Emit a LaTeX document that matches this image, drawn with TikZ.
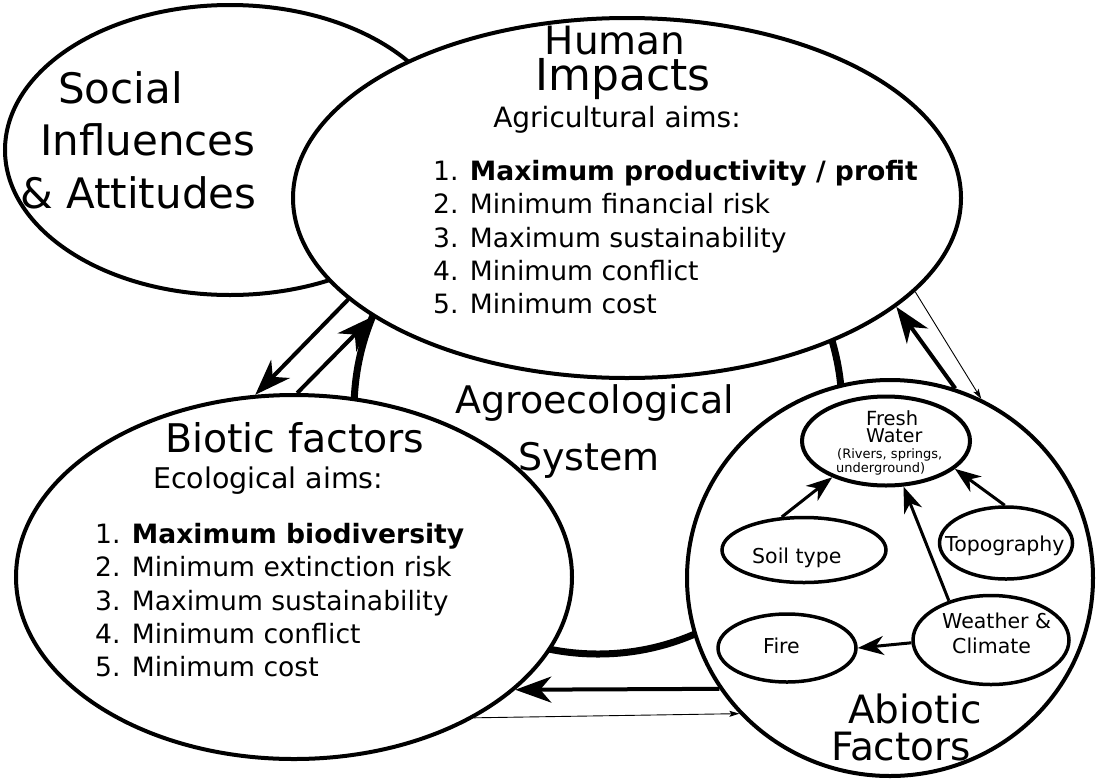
\documentclass[tikz,border=0pt]{standalone}
\usepackage{fontspec}
\setmainfont{DejaVu Sans}
\usetikzlibrary{arrows.meta,shapes.geometric}
\newcommand\fsz[1]{\fontsize{#1}{#1}\selectfont}
\begin{document}
\begin{tikzpicture}[x=1pt,y=-1pt,
  ell/.style={draw, ellipse, line width=4pt, fill=white, inner sep=0pt},
  sell/.style={draw, ellipse, line width=3.5pt, fill=white, inner sep=0pt},
  txt/.style={anchor=base west, inner sep=0pt},
  bigarrow/.style={line width=4pt, -{Stealth[length=36pt,width=26pt,inset=11pt]}},
  thinarrow/.style={line width=0.9pt, -{Stealth[length=10pt,width=6pt,inset=2pt]}},
  inarrow/.style={line width=3pt, -{Stealth[length=26pt,width=19pt,inset=8pt]}}]
\useasboundingbox (0,0) rectangle (1097,782);
% big system circle
\node[circle, draw, line width=7pt, minimum size=488pt, inner sep=0pt] (agro) at (598,410) {};
% main ellipses
\node[ell, minimum width=450pt, minimum height=290pt] (social) at (230,150) {};
\node[ell, minimum width=668pt, minimum height=360pt] (human) at (627,198) {};
\node[ell, minimum width=556pt, minimum height=364pt] (biotic) at (294,577) {};
\node[ell, minimum width=406pt, minimum height=396pt] (abiotic) at (890,578) {};
% inner ellipses
\node[ell, minimum width=168pt, minimum height=89pt] (water) at (886,441) {};
\node[sell, minimum width=164pt, minimum height=65pt] (soil) at (804,550) {};
\node[sell, minimum width=133pt, minimum height=72pt] (topo) at (1006,543) {};
\node[sell, minimum width=138pt, minimum height=68pt] (fire) at (787,648) {};
\node[sell, minimum width=156pt, minimum height=89pt] (weather) at (991,640) {};
% texts: social
\node[txt] (s1) at (58,103) {\fsz{42}Social};
\node[txt] (s2) at (40,155) {\fsz{42}Influences};
\node[txt] (s3) at (20,208) {\fsz{42}\& Attitudes};
% human
\node[anchor=base, inner sep=0pt] (h1) at (615,54) {\fsz{39}Human};
\node[anchor=base, inner sep=0pt] (h2) at (623,90) {\fsz{44}Impacts};
\node[anchor=base, inner sep=0pt] (h3) at (617,127) {\fsz{28}Agricultural aims:};
\node[txt] (h4) at (433,180) {\fsz{26.6}1. \textbf{Maximum productivity / profit}};
\node[txt] (h5) at (433,213) {\fsz{26.6}2. Minimum financial risk};
\node[txt] (h6) at (433,247) {\fsz{26.6}3. Maximum sustainability};
\node[txt] (h7) at (433,280) {\fsz{26.6}4. Minimum conflict};
\node[txt] (h8) at (433,313) {\fsz{26.6}5. Minimum cost};
% system
\node[txt] (a1) at (455,413) {\fsz{38}Agroecological};
\node[txt] (a2) at (518,470) {\fsz{38}System};
% biotic
\node[txt] (b1) at (165,452) {\fsz{39.5}Biotic factors};
\node[txt] (b2) at (153,488) {\fsz{28.5}Ecological aims:};
\node[txt] (b3) at (95,543) {\fsz{26.6}1. \textbf{Maximum biodiversity}};
\node[txt] (b4) at (95,576) {\fsz{26.6}2. Minimum extinction risk};
\node[txt] (b5) at (95,610) {\fsz{26.6}3. Maximum sustainability};
\node[txt] (b6) at (95,643) {\fsz{26.6}4. Minimum conflict};
\node[txt] (b7) at (95,676) {\fsz{26.6}5. Minimum cost};
% abiotic
\node[txt] (c1) at (848,723) {\fsz{39}Abiotic};
\node[txt] (c2) at (831,760) {\fsz{39}Factors};
\node[txt] (w1) at (866,425) {\fsz{19.5}Fresh};
\node[txt] (w2) at (866,442) {\fsz{19}Water};
\node[txt] (w3) at (837,458) {\fsz{13}(Rivers, springs,};
\node[txt] (w4) at (836,472) {\fsz{13}underground)};
\node[txt] (so) at (752,563) {\fsz{20.5}Soil type};
\node[txt] (to) at (945,551) {\fsz{20.5}Topography};
\node[txt] (fi) at (763,653) {\fsz{20.5}Fire};
\node[txt] (we1) at (942,628) {\fsz{20.5}Weather \&};
\node[txt] (we2) at (952,653) {\fsz{20.5}Climate};
% main arrows
\draw[bigarrow] (human.200.8) -- (biotic.102.9);
\draw[bigarrow] (biotic.89) -- (human.205.1);
\draw[thinarrow] (human.342) -- (abiotic.63.7);
\draw[bigarrow] (abiotic.71.1) -- (human.338.3);
\draw[bigarrow] (abiotic.213.3) -- (biotic.333.1);
\draw[thinarrow] (biotic.322.3) -- (abiotic.222);
% inner arrows
\draw[inarrow] (soil.124.8) -- (water.214.4);
\draw[inarrow] (topo.92.9) -- (water.338.1);
\draw[inarrow] (weather.137) -- (water.291);
\draw[inarrow] (weather.182.9) -- (fire.0.8);
\end{tikzpicture}
\end{document}
